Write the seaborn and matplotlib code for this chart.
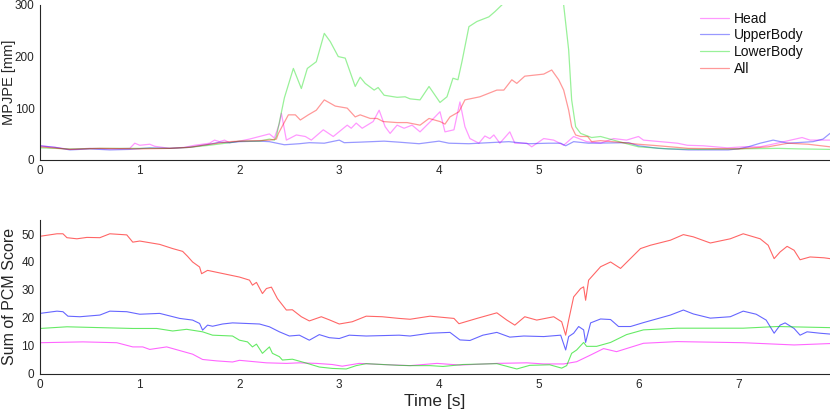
import pandas as pd
import matplotlib
matplotlib.use('Agg')
import matplotlib.pyplot as plt
import seaborn as sns

# ---- top panel: MPJPE per body part ----
head_t = [0, 0.15, 0.3, 0.5, 0.7, 0.9, 0.95, 1.0, 1.1, 1.15, 1.3, 1.45, 1.55, 1.7, 1.75, 1.8, 1.85, 1.9, 2.0,
          2.1, 2.2, 2.3, 2.35, 2.4, 2.42, 2.47, 2.57, 2.66, 2.72, 2.84, 2.94, 3.08, 3.12, 3.17, 3.23, 3.34, 3.40,
          3.46, 3.51, 3.58, 3.65, 3.73, 3.81, 3.93, 4.01, 4.06, 4.15, 4.21, 4.26, 4.31, 4.40, 4.46, 4.51, 4.55,
          4.61, 4.71, 4.76, 4.88, 4.93, 5.05, 5.15, 5.25, 5.35, 5.48, 5.62, 5.75, 5.88, 6.0, 6.05, 6.22, 6.39,
          6.49, 6.65, 6.89, 7.05, 7.22, 7.39, 7.64, 7.72, 7.92]
head_v = [27, 24, 20, 22, 21, 22, 32, 28, 30, 26, 22, 24, 28, 32, 38, 35, 38, 33, 36,
          40, 45, 50, 42, 70, 90, 38, 48, 45, 38, 58, 45, 67, 61, 71, 61, 74, 96,
          64, 51, 67, 61, 67, 54, 77, 93, 54, 58, 112, 64, 41, 32, 46, 41, 48,
          32, 54, 32, 32, 25, 41, 38, 28, 45, 35, 32, 41, 38, 45, 38, 35, 32,
          28, 27, 23, 25, 25, 32, 43, 38, 38]

upper_t = [0, 0.15, 0.3, 0.5, 0.7, 0.9, 1.1, 1.3, 1.5, 1.7, 1.8, 1.9, 2.0, 2.2, 2.3, 2.45, 2.6, 2.7, 2.85,
           3.0, 3.05, 3.2, 3.45, 3.6, 3.8, 4.0, 4.1, 4.3, 4.5, 4.7, 4.9, 5.1, 5.22, 5.27, 5.35, 5.5, 5.9,
           6.0, 6.2, 6.5, 6.9, 7.0, 7.1, 7.22, 7.35, 7.5, 7.75, 7.85, 7.92]
upper_v = [27, 24, 19, 21, 19, 20, 23, 22, 24, 30, 34, 33, 35, 36, 35, 29, 31, 33, 32,
           38, 33, 34, 36, 34, 31, 36, 32, 31, 33, 35, 31, 32, 32, 27, 35, 32, 33,
           27, 22, 19, 19, 21, 25, 32, 38, 32, 35, 40, 51]

lower_t = [0, 0.3, 0.6, 1.0, 1.3, 1.5, 1.7, 1.9, 2.0, 2.2, 2.3, 2.35, 2.37, 2.45, 2.54, 2.62, 2.68, 2.77,
           2.85, 2.91, 2.99, 3.06, 3.16, 3.21, 3.26, 3.35, 3.39, 3.45, 3.58, 3.66, 3.71, 3.81, 3.90, 4.01,
           4.08, 4.14, 4.19, 4.23, 4.30, 4.38, 4.50, 4.56, 4.63, 4.68, 5.22, 5.25, 5.30, 5.33, 5.37, 5.42,
           5.53, 5.62, 5.75, 5.9, 6.0, 6.3, 6.6, 7.0, 7.4, 7.6, 7.92]
lower_v = [23, 21, 22, 22, 22, 24, 28, 33, 36, 36, 40, 38, 45, 120, 177, 138, 177, 190,
           245, 229, 200, 197, 142, 160, 148, 135, 140, 125, 121, 122, 118, 116, 142, 111,
           122, 158, 155, 190, 258, 268, 277, 287, 300, 310, 320, 300, 213, 116, 64, 51,
           43, 45, 38, 30, 25, 21, 20, 21, 22, 21, 20]

all_t = [0, 0.3, 0.6, 1.0, 1.3, 1.5, 1.7, 1.9, 2.0, 2.2, 2.3, 2.37, 2.39, 2.49, 2.56, 2.61, 2.69, 2.77,
         2.85, 2.96, 3.08, 3.16, 3.21, 3.31, 3.38, 3.44, 3.58, 3.68, 3.81, 3.90, 4.01, 4.06, 4.11, 4.20,
         4.26, 4.41, 4.58, 4.65, 4.73, 4.78, 4.86, 5.05, 5.13, 5.20, 5.25, 5.30, 5.33, 5.37, 5.42, 5.49,
         5.53, 5.62, 5.8, 6.0, 6.2, 6.5, 7.0, 7.3, 7.5, 7.7, 7.92]
all_v = [25, 20, 22, 21, 22, 24, 30, 35, 36, 37, 38, 40, 51, 87, 87, 77, 87, 96,
         116, 104, 100, 83, 87, 80, 80, 74, 72, 72, 67, 80, 74, 69, 83, 93,
         116, 122, 135, 135, 155, 148, 162, 166, 174, 155, 135, 96, 64, 48, 45, 45,
         35, 37, 34, 30, 27, 22, 21, 25, 32, 30, 25]

# ---- bottom panel: sum of PCM score ----
pcm_head_t = [0, 0.43, 0.77, 0.93, 1.03, 1.1, 1.27, 1.4, 1.53, 1.63, 1.77, 1.93, 2.0, 2.27, 2.47, 2.6, 2.77,
              2.93, 3.03, 3.2, 3.43, 3.71, 3.98, 4.21, 4.58, 4.88, 5.05, 5.25, 5.38, 5.52, 5.65, 5.78, 6.05,
              6.39, 7.05, 7.56, 7.92]
pcm_head_v = [11.1, 11.4, 11.1, 9.6, 9.6, 8.7, 9.6, 8.3, 7.0, 5.1, 4.6, 4.2, 4.8, 3.9, 3.7, 3.9, 3.7,
              3.3, 2.7, 3.7, 3.3, 2.9, 3.7, 3.1, 3.7, 3.9, 3.5, 3.5, 4.3, 6.7, 9.0, 7.9, 10.9,
              11.5, 11.1, 10.3, 10.8]

pcm_upper_t = [0, 0.17, 0.23, 0.28, 0.4, 0.6, 0.7, 0.87, 1.0, 1.2, 1.4, 1.53, 1.6, 1.63, 1.68, 1.73, 1.83,
               1.93, 2.2, 2.3, 2.4, 2.5, 2.6, 2.7, 2.8, 2.9, 3.0, 3.1, 3.27, 3.6, 3.71, 3.91, 4.11, 4.21,
               4.31, 4.44, 4.58, 4.71, 4.85, 5.05, 5.22, 5.27, 5.30, 5.35, 5.40, 5.45, 5.47, 5.52, 5.62,
               5.72, 5.80, 5.92, 6.05, 6.32, 6.45, 6.55, 6.72, 6.92, 7.05, 7.18, 7.28, 7.36, 7.42, 7.47,
               7.56, 7.62, 7.69, 7.82, 7.92]
pcm_upper_v = [21.6, 22.4, 22.2, 20.6, 20.4, 21.0, 22.4, 22.2, 21.3, 21.6, 19.8, 19.2, 18.0, 15.6, 17.4, 17.0, 17.8,
               18.2, 17.8, 16.8, 15.0, 13.5, 13.8, 12.0, 14.0, 12.9, 12.6, 13.8, 13.5, 13.8, 13.5, 14.5, 14.8, 12.1,
               11.9, 13.8, 14.8, 13.1, 13.5, 13.3, 13.8, 8.5, 13.3, 14.5, 16.9, 15.7, 11.2, 18.2, 19.6,
               19.4, 16.9, 16.9, 18.3, 21.0, 22.8, 21.4, 19.9, 20.4, 22.4, 21.3, 19.2, 14.5, 17.4, 18.2,
               16.2, 13.8, 15.0, 14.5, 14.2]

pcm_lower_t = [0, 0.27, 0.93, 1.17, 1.33, 1.47, 1.63, 1.73, 1.93, 2.0, 2.08, 2.13, 2.17, 2.23, 2.3, 2.33,
               2.4, 2.43, 2.53, 2.67, 2.8, 2.93, 3.07, 3.17, 3.27, 3.6, 3.71, 3.91, 4.04, 4.24, 4.58, 4.78,
               4.91, 5.11, 5.23, 5.28, 5.33, 5.38, 5.45, 5.48, 5.58, 5.72, 5.88, 6.05, 6.39, 7.05, 7.39, 7.92]
pcm_lower_v = [16.2, 16.8, 16.2, 16.2, 15.3, 15.9, 15.0, 13.8, 13.5, 12.0, 11.4, 9.6, 10.6, 7.3, 9.6, 7.3,
               6.1, 4.9, 5.2, 3.8, 2.4, 1.9, 1.7, 2.9, 3.6, 3.0, 2.9, 2.9, 2.6, 3.3, 3.6, 1.7,
               3.0, 3.2, 2.0, 2.9, 7.3, 8.5, 11.2, 9.8, 9.8, 11.2, 14.0, 15.7, 16.3, 16.3, 16.9, 16.5]

pcm_all_t = [0, 0.17, 0.23, 0.27, 0.37, 0.47, 0.6, 0.7, 0.87, 0.93, 1.0, 1.2, 1.33, 1.43, 1.48, 1.53, 1.6,
             1.62, 1.68, 1.8, 2.0, 2.1, 2.13, 2.17, 2.23, 2.27, 2.32, 2.38, 2.47, 2.53, 2.62, 2.7, 2.82,
             2.9, 3.0, 3.13, 3.27, 3.43, 3.6, 3.71, 3.91, 4.15, 4.20, 4.38, 4.58, 4.68, 4.76, 4.86, 4.98,
             5.15, 5.23, 5.27, 5.30, 5.35, 5.42, 5.45, 5.47, 5.50, 5.62, 5.72, 5.82, 6.02, 6.12, 6.32,
             6.45, 6.55, 6.72, 6.92, 7.05, 7.22, 7.30, 7.36, 7.42, 7.49, 7.56, 7.62, 7.72, 7.86, 7.92]
pcm_all_v = [49.2, 50.1, 50.1, 48.7, 48.3, 48.8, 48.7, 50.1, 49.7, 47.1, 47.5, 46.3, 44.8, 43.8, 42.0, 40.0, 38.2,
             35.8, 37.0, 36.1, 34.6, 33.5, 31.7, 32.7, 28.7, 30.5, 31.0, 26.9, 22.8, 22.9, 20.4, 18.9, 20.4,
             19.3, 17.8, 18.6, 20.6, 20.4, 19.8, 19.5, 20.6, 19.8, 17.9, 19.8, 21.8, 19.2, 17.4, 20.4, 19.2,
             20.4, 18.6, 13.8, 19.2, 27.5, 30.5, 31.1, 26.3, 33.5, 38.3, 40.0, 37.7, 44.8, 46.0, 47.8,
             49.8, 49.0, 46.8, 48.3, 50.1, 48.3, 46.0, 41.2, 43.6, 45.6, 44.2, 40.8, 41.8, 41.5, 41.2]

labels = ['Head', 'UpperBody', 'LowerBody', 'All']
colors = {'Head': '#ff00ff', 'UpperBody': '#0000ff', 'LowerBody': '#00dd00', 'All': '#ff0000'}


def make_df(series):
    parts = []
    for name, t, v in series:
        parts.append(pd.DataFrame({'t': t, 'v': v, 'part': name}))
    return pd.concat(parts, ignore_index=True)


df_top = make_df([('Head', head_t, head_v), ('UpperBody', upper_t, upper_v),
                  ('LowerBody', lower_t, lower_v), ('All', all_t, all_v)])
df_bot = make_df([('Head', pcm_head_t, pcm_head_v), ('UpperBody', pcm_upper_t, pcm_upper_v),
                  ('LowerBody', pcm_lower_t, pcm_lower_v), ('All', pcm_all_t, pcm_all_v)])

sns.set_style('white')
plt.rcParams['font.family'] = ['Liberation Sans', 'DejaVu Sans']
axcol = '#262626'

fig = plt.figure(figsize=(8.3, 4.13), dpi=100)
ax1 = fig.add_axes([0.0482, 0.6133, 0.9518, 0.3746])
ax2 = fig.add_axes([0.0482, 0.0951, 0.9518, 0.372])

sns.lineplot(data=df_top, x='t', y='v', hue='part', hue_order=labels, palette=colors,
             estimator=None, sort=False, lw=0.9, alpha=0.4, ax=ax1)
sns.lineplot(data=df_bot, x='t', y='v', hue='part', hue_order=labels, palette=colors,
             estimator=None, sort=False, lw=0.8, alpha=0.6, ax=ax2, legend=False)

ax1.set_ylim(0, 300)
ax1.set_yticks([0, 100, 200, 300])
ax2.set_ylim(0, 55)
ax2.set_yticks([0, 10, 20, 30, 40, 50])

for ax in (ax1, ax2):
    ax.set_xlim(0, 7.92)
    ax.set_xticks(range(8))
    ax.set_xlabel('')
    ax.set_facecolor('white')
    ax.spines['top'].set_visible(False)
    ax.spines['right'].set_visible(False)
    ax.spines['left'].set_color(axcol)
    ax.spines['bottom'].set_color(axcol)
    ax.spines['left'].set_linewidth(0.8)
    ax.spines['bottom'].set_linewidth(0.8)
    ax.tick_params(direction='in', length=5, width=0.8, colors=axcol, labelsize=8.5, pad=4)

ax1.set_ylabel('MPJPE [mm]', fontsize=10.5, color=axcol)
ax1.yaxis.set_label_coords(-0.031, 0.5)
ax2.set_ylabel('Sum of PCM Score', fontsize=11.5, color=axcol)
ax2.yaxis.set_label_coords(-0.029, 0.5)
ax2.set_xlabel('Time [s]', fontsize=12.5, color=axcol, labelpad=2)

leg = ax1.legend(loc='upper left', bbox_to_anchor=(694 / 830, 1 - 6 / 413), bbox_transform=fig.transFigure,
                 frameon=False, fontsize=10, handlelength=2.1, handletextpad=0.35, labelspacing=0.2,
                 borderaxespad=0)
for h in leg.get_lines():
    h.set_linewidth(0.9)
    h.set_alpha(0.4)
for txt in leg.get_texts():
    txt.set_color('#111111')

fig.savefig('out.png', dpi=100)
